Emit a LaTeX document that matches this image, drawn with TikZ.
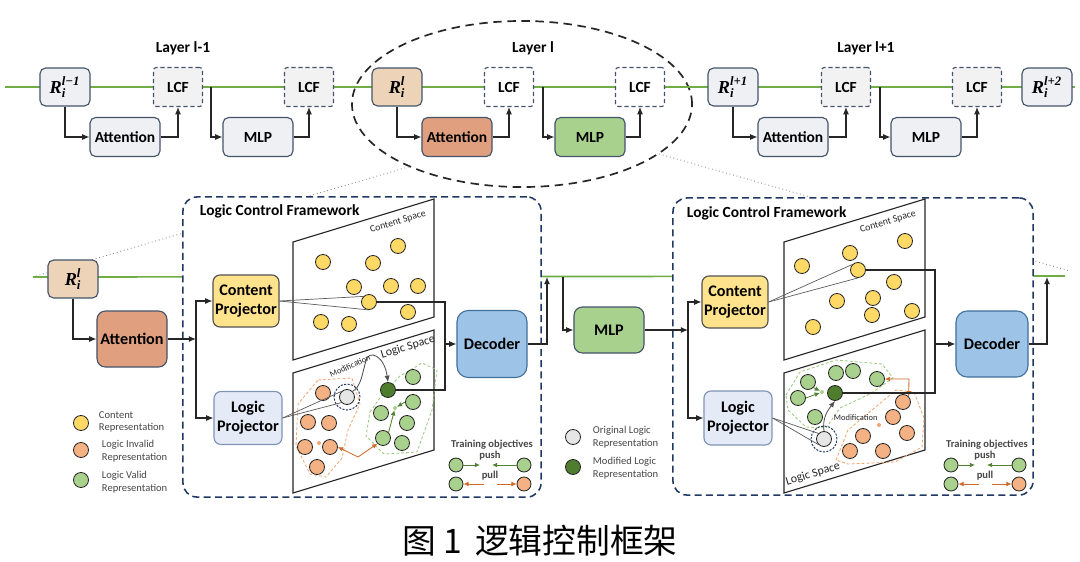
\documentclass[tikz,border=0pt]{standalone}
\usepackage{amsmath}
\usepackage{fontspec}
\setmainfont{Carlito}
\newfontfamily\cjk{Noto Sans CJK SC}
\newfontfamily\rfont{Liberation Serif}
\usepackage{tikz}
\usetikzlibrary{arrows.meta,positioning,shapes.geometric,calc}

\newcommand{\rlab}[1]{$\text{\rfont\bfseries\itshape R}_{\text{\rfont\bfseries\itshape i}}^{\text{\rfont\bfseries\itshape #1}}$}

\definecolor{slate}{HTML}{44546A}
\definecolor{boxgray}{HTML}{EEF0F4}
\definecolor{lcfgray}{HTML}{F2F2F2}
\definecolor{rtan}{HTML}{EDD3B8}
\definecolor{attred}{HTML}{E0A07F}
\definecolor{mlpgreen}{HTML}{A9D18E}
\definecolor{linegreen}{HTML}{70AD47}
\definecolor{projyellow}{HTML}{FFE38C}
\definecolor{projblue}{HTML}{E4EBF7}
\definecolor{projedge}{HTML}{7F93B5}
\definecolor{decblue}{HTML}{9DC3E6}
\definecolor{decedge}{HTML}{41719C}
\definecolor{fwnavy}{HTML}{203864}
\definecolor{dotyellow}{HTML}{FFD966}
\definecolor{dotorange}{HTML}{F4B183}
\definecolor{dotgreen}{HTML}{A9D18E}
\definecolor{dotdark}{HTML}{4E7D2E}
\definecolor{dotgray}{HTML}{E6E6E6}
\definecolor{arrorange}{HTML}{D0692A}
\definecolor{arrgreen}{HTML}{548235}
\definecolor{hullorange}{HTML}{F4A672}
\definecolor{hullgreen}{HTML}{9DCB7E}
\definecolor{ink}{HTML}{262626}

\begin{document}
\begin{tikzpicture}[
  x=0.025cm, y=-0.025cm,
  font=\bfseries\fontsize{11}{13}\selectfont,
  blk/.style={
    rectangle,
    rounded corners=4pt,
    draw=slate,
    line width=0.8pt,
    fill=boxgray,
    inner sep=0pt,
    minimum width=1.75cm,
    minimum height=0.975cm
  },
  rbox/.style={blk, minimum width=1.25cm, minimum height=0.95cm,
    font=\bfseries\fontsize{13}{14}\selectfont},
  lcfbox/.style={blk, fill=lcfgray, dash pattern=on 3pt off 2pt,
    rounded corners=2pt, minimum width=1.225cm},
  proj/.style={
    rectangle,
    rounded corners=5pt,
    line width=0.8pt,
    align=center,
    inner sep=0pt,
    font=\bfseries\fontsize{11.5}{13.5}\selectfont,
    minimum width=1.65cm,
    minimum height=1.3cm
  },
  dec/.style={proj, draw=decedge, fill=decblue, rounded corners=8pt,
    minimum width=1.75cm, minimum height=1.675cm},
  fwbox/.style={rectangle, rounded corners=10pt, draw=fwnavy, fill=white,
    line width=1.1pt, dash pattern=on 5pt off 3pt},
  space/.style={draw=ink, line width=0.8pt, fill=white},
  dot/.style={circle, draw=ink, line width=0.6pt, inner sep=0pt, minimum size=0.375cm},
  cdot/.style={dot, fill=dotyellow},
  odot/.style={dot, fill=dotorange},
  gdot/.style={dot, fill=dotgreen},
  mdot/.style={dot, fill=dotdark},
  xdot/.style={dot, fill=dotgray},
  tdot/.style={dot, minimum size=0.35cm},
  cen/.style={circle, inner sep=0pt, minimum size=0.1cm},
  ringdash/.style={circle, draw=fwnavy, dash pattern=on 1.5pt off 1pt,
    line width=0.7pt, inner sep=0pt, minimum size=0.65cm},
  hull/.style={dash pattern=on 2pt off 1.5pt, line width=0.6pt},
  gline/.style={draw=linegreen, line width=1.2pt},
  dotline/.style={draw=gray, dotted, line width=0.6pt},
  arrow/.style={-{Latex[length=1.8mm,width=1.5mm]}, line width=0.8pt, draw=ink},
  wire/.style={line width=0.8pt, draw=ink},
  cone/.style={line width=0.5pt, draw=ink!75},
  modarr/.style={-{Latex[length=1.6mm,width=1.3mm]}, line width=0.6pt, draw=ink!80},
  garr/.style={-{Latex[length=1.3mm,width=1.2mm]}, line width=0.6pt, draw=arrgreen},
  oarr/.style={-{Latex[length=1.3mm,width=1.2mm]}, line width=0.6pt, draw=arrorange},
  legtext/.style={anchor=west, align=left, text=ink!85,
    font=\normalfont\fontsize{7.5}{9}\selectfont},
  small/.style={font=\normalfont\fontsize{7}{8}\selectfont, text=ink},
  tiny/.style={font=\normalfont\fontsize{6}{7}\selectfont, text=ink},
  objtext/.style={font=\bfseries\fontsize{7.5}{8}\selectfont, text=ink!85}
]
  \fill[white] (0,0) rectangle (1080,561);
  \useasboundingbox (0,0) rectangle (1080,561);

  % zoom ring and guide lines
  \node[ellipse, draw=ink, line width=1.2pt, dash pattern=on 6pt off 4pt,
    minimum width=8.5cm, minimum height=4.15cm] (ring) at (522,104) {};
  \coordinate (gin)  at (5,87);
  \coordinate (gout) at (1075,87);
  \coordinate (lin)  at (33,277);
  \coordinate (lout) at (1065,276);
  \coordinate (rdot) at (1070,271);
  \draw[dotline] (ring.209) -- (lin);
  \draw[dotline] (ring.340) -- (rdot);
  \draw[gline] (gin) -- (gout);
  \draw[gline] (lin) -- (lout);

  \node (lay1) at (183,48) {Layer l-1};
  \node (lay2) at (533,48) {Layer l};
  \node (lay3) at (866,48) {Layer l+1};

  \node[rbox]                (r1)   at (65,87)    {\rlab{l−1}};
  \node[lcfbox]              (lcf1) at (178,87)   {LCF};
  \node[blk]                 (att1) at (125,137)  {Attention};
  \node[lcfbox]              (lcf2) at (309,87)   {LCF};
  \node[blk]                 (mlp1) at (258,137)  {MLP};
  \node[rbox, fill=rtan]     (r2)   at (397,87)   {\rlab{l}};
  \node[lcfbox, fill=white]  (lcf3) at (509,87)   {LCF};
  \node[blk, fill=attred]    (att2) at (457,137)  {Attention};
  \node[lcfbox, fill=white]  (lcf4) at (640,87)   {LCF};
  \node[blk, fill=mlpgreen]  (mlp2) at (590,137)  {MLP};
  \node[rbox]                (r3)   at (733,87)   {\rlab{l+1}};
  \node[lcfbox]              (lcf5) at (846,87)   {LCF};
  \node[blk]                 (att3) at (793,137)  {Attention};
  \node[lcfbox]              (lcf6) at (977,87)   {LCF};
  \node[blk]                 (mlp3) at (926,137)  {MLP};
  \node[rbox]                (r4)   at (1047,87)  {\rlab{l+2}};

  \coordinate (t1) at (211,87);
  \coordinate (t2) at (543,87);
  \coordinate (t3) at (880,87);

  \draw[arrow] (r1.south) |- (att1.west);
  \draw[arrow] (att1.east) -| (lcf1.south);
  \draw[arrow] (t1) |- (mlp1.west);
  \draw[arrow] (mlp1.east) -| (lcf2.south);
  \draw[arrow] (r2.south) |- (att2.west);
  \draw[arrow] (att2.east) -| (lcf3.south);
  \draw[arrow] (t2) |- (mlp2.west);
  \draw[arrow] (mlp2.east) -| (lcf4.south);
  \draw[arrow] (r3.south) |- (att3.west);
  \draw[arrow] (att3.east) -| (lcf5.south);
  \draw[arrow] (t3) |- (mlp3.west);
  \draw[arrow] (mlp3.east) -| (lcf6.south);

  % frameworks
  \node[fwbox, minimum width=8.95cm, minimum height=7.5cm] (fw1) at (362,347) {};
  \node[fwbox, minimum width=9cm, minimum height=7.425cm] (fw2) at (853,346.5) {};
  \node[anchor=west] (fwt1) at (195,211) {Logic Control Framework};
  \node[anchor=west] (fwt2) at (682,213) {Logic Control Framework};

  \node[rbox, fill=rtan] (rl) at (73,279) {\rlab{l}};
  \node[blk, fill=attred, minimum height=1.4cm, rounded corners=6pt,
    font=\bfseries\fontsize{11.5}{13}\selectfont] (attl) at (132,339) {Attention};
  \draw[arrow] (rl.south) |- (attl.west);

  \node[proj, draw=ink!80, fill=projyellow] (cp1) at (246,301) {Content\\Projector};
  \node[proj, draw=projedge, fill=projblue, minimum width=1.7cm,
    minimum height=1.325cm] (lp1) at (248,418) {Logic\\Projector};
  \coordinate (s1) at (196,339);
  \draw[arrow] (attl.east) -- (s1);
  \draw[arrow] (s1) |- (cp1.west);
  \draw[arrow] (s1) |- (lp1.west);

  \draw[space] (293,242) -- (434,199) -- (434,317) -- (293,360) -- cycle;
  \draw[space] (293,373) -- (434,330) -- (434,450) -- (293,493) -- cycle;
  \node[small, rotate=17] (csl1) at (398,222) {Content Space};
  \node[small, font=\normalfont\fontsize{8.5}{9}\selectfont, rotate=17] (lsl1) at (408,347) {Logic Space};

  \foreach \x/\y in {323/262,373/263,398/246,354/287,391/286,418/286,408/312,321/322,349/324}
    \node[cdot] at (\x,\y) {};
  \node[cdot] (sel1) at (369,302) {};

  \draw[hull, draw=hullorange] (318,380) -- (352,378) -- (360,404) -- (348,430) -- (342,458)
    -- (326,477) -- (310,474) -- (296,446) -- (298,404) -- cycle;
  \draw[hull, draw=hullgreen] (370,412) -- (382,395) -- (400,376) -- (422,363) -- (437,370)
    -- (432,410) -- (417,452) -- (384,454) -- (366,436) -- cycle;
  \foreach \x/\y [count=\i] in {323/393,308/422,329/423,305/447,330/447,317/467}
    \node[odot] (oa\i) at (\x,\y) {};
  \foreach \x/\y [count=\i] in {413/377,413/402,381/413,407/423,383/438,402/443}
    \node[gdot] (ga\i) at (\x,\y) {};
  \node[cen, fill=hullorange] (ocen1) at (319,443) {};
  \node[cen, fill=dotgreen] (gcen1) at (395,408) {};
  \node[ringdash] (ring1) at (347,397) {};
  \node[xdot] (orig1) at (347,397) {};
  \node[mdot] (mod1) at (388,390) {};

  \draw[garr] (ga2.west) -- (gcen1);
  \draw[garr] (ga5.north east) -- (gcen1);
  \coordinate (ov1) at (358,457);
  \draw[oarr, {Latex[length=1.3mm,width=1.2mm]}-{Latex[length=1.3mm,width=1.2mm]}]
    (oa5.east) -- (ov1) -- (ga5.south west);

  \draw[cone] (cp1.east) -- (sel1.north west);
  \draw[cone] (cp1.east) -- (sel1.south);
  \draw[cone] (lp1.east) -- (orig1.north west);
  \draw[cone] (lp1.east) -- (orig1.south west);
  \draw[modarr] (orig1.north east) .. controls (366,384) and (362,352) .. (373,355)
    .. controls (382,357) and (386,368) .. (mod1.north);
  \node[tiny, rotate=25] (modl1) at (350,366) {Modification};

  \node[dec] (dec1) at (492,344) {Decoder};
  \coordinate (k1) at (445,344);
  \draw[wire] (sel1.east) -| (k1);
  \draw[wire] (mod1.east) -| (k1);
  \draw[arrow] (k1) -- (dec1.west);
  \coordinate (u1) at (547,277);
  \draw[arrow] (dec1.east) -| (u1);

  % left legend
  \node[cdot] (lg1) at (81,423) {};
  \node[odot] (lg2) at (81,450) {};
  \node[gdot] (lg3) at (81,480) {};
  \node[legtext] (lt1) at (94,422) {Content\\Representation};
  \node[legtext] (lt2) at (97,451) {Logic Invalid\\Representation};
  \node[legtext] (lt3) at (97,482) {Logic Valid\\Representation};

  % training objectives 1
  \node[objtext] (to1) at (492,445) {Training objectives};
  \node[objtext] (pu1) at (490,456) {push};
  \node[objtext] (pl1) at (490,476) {pull};
  \node[tdot, fill=dotgreen]  (tg1) at (456,465) {};
  \node[tdot, fill=dotgreen]  (tg2) at (524,465) {};
  \node[tdot, fill=dotgreen]  (tg3) at (456,484) {};
  \node[tdot, fill=dotorange] (tr1) at (524,484) {};
  \coordinate (pa1) at (480,465);
  \coordinate (pb1) at (492,465);
  \coordinate (pc1) at (484,484);
  \coordinate (pd1) at (497,484);
  \draw[garr] (tg1) -- (pa1);
  \draw[garr] (tg2) -- (pb1);
  \draw[oarr] (pc1) -- (tg3);
  \draw[oarr] (pd1) -- (tr1);

  % between frameworks
  \coordinate (v1) at (563,277);
  \node[blk, fill=mlpgreen, minimum height=1.15cm, rounded corners=6pt,
    font=\bfseries\fontsize{11.5}{13}\selectfont] (mlpl) at (609,330) {MLP};
  \draw[arrow] (v1) |- (mlpl.west);
  \node[xdot] (lg4) at (573,437) {};
  \node[mdot] (lg5) at (573,467) {};
  \node[legtext] (lt4) at (588,437) {Original Logic\\Representation};
  \node[legtext] (lt5) at (588,468) {Modified Logic\\Representation};

  % second framework
  \node[proj, draw=ink!80, fill=projyellow] (cp2) at (735,302) {Content\\Projector};
  \node[proj, draw=projedge, fill=projblue, minimum width=1.7cm,
    minimum height=1.35cm] (lp2) at (738,418) {Logic\\Projector};
  \coordinate (s2) at (688,330);
  \draw[arrow] (mlpl.east) -- (s2);
  \draw[arrow] (s2) |- (cp2.west);
  \draw[arrow] (s2) |- (lp2.west);

  \draw[space] (784,242) -- (925,199) -- (925,317) -- (784,360) -- cycle;
  \draw[space] (784,373) -- (925,330) -- (925,450) -- (784,493) -- cycle;
  \node[small, rotate=17] (csl2) at (888,222) {Content Space};
  \node[small, font=\normalfont\fontsize{8.5}{9}\selectfont, rotate=17] (lsl2) at (813,474) {Logic Space};

  \foreach \x/\y in {802/266,850/253,905/241,894/282,837/301,873/298,872/315,912/311,813/327}
    \node[cdot] at (\x,\y) {};
  \node[cdot] (sel2) at (858,270) {};

  \draw[hull, draw=hullgreen] (786,395) -- (800,372) -- (836,360) -- (882,364) -- (893,378)
    -- (870,394) -- (840,408) -- (826,428) -- (806,427) -- (788,410) -- cycle;
  \draw[hull, draw=hullorange] (836,460) -- (848,430) -- (872,410) -- (896,390) -- (914,392)
    -- (924,418) -- (922,447) -- (895,462) -- (848,464) -- cycle;
  \foreach \x/\y [count=\i] in {903/402,893/417,907/433,863/436,850/451,883/451}
    \node[odot] (ob\i) at (\x,\y) {};
  \foreach \x/\y [count=\i] in {808/382,836/373,853/371,877/379,798/398,815/417}
    \node[gdot] (gb\i) at (\x,\y) {};
  \node[cen, fill=hullorange] (ocen2) at (879,425) {};
  \node[cen, fill=dotgreen] (gcen2) at (822,392) {};
  \node[ringdash] (ring2) at (824,439) {};
  \node[xdot] (orig2) at (824,439) {};
  \node[mdot] (mod2) at (835,393) {};

  \draw[garr] (gb5.east) -- (gcen2);
  \draw[garr] (gb1.south east) -- (gcen2);
  \coordinate (ow2) at (909,379);
  \draw[oarr, {Latex[length=1.3mm,width=1.2mm]}-{Latex[length=1.3mm,width=1.2mm]}]
    (gb4.east) -- (ow2) -- (ob1.north east);

  \draw[cone] (cp2.east) -- (sel2.north west);
  \draw[cone] (cp2.east) -- (sel2.south);
  \draw[cone] (lp2.east) -- (orig2.north west);
  \draw[cone] (lp2.east) -- (orig2.south west);
  \draw[modarr] (orig2.north) .. controls (822,418) and (828,410) .. (mod2.south);
  \node[tiny, anchor=west] (modl2) at (829,418) {Modification};

  \node[dec, minimum width=1.8cm, minimum height=1.65cm] (dec2) at (992,344) {Decoder};
  \coordinate (k2) at (935,344);
  \draw[wire] (sel2.east) -| (k2);
  \draw[wire] (mod2.east) -| (k2);
  \draw[arrow] (k2) -- (dec2.west);
  \coordinate (u2) at (1047,277);
  \draw[arrow] (dec2.east) -| (u2);

  % training objectives 2
  \node[objtext] (to2) at (987,445) {Training objectives};
  \node[objtext] (pu2) at (985,456) {push};
  \node[objtext] (pl2) at (985,476) {pull};
  \node[tdot, fill=dotgreen]  (tg4) at (951,465) {};
  \node[tdot, fill=dotgreen]  (tg5) at (1019,465) {};
  \node[tdot, fill=dotgreen]  (tg6) at (951,484) {};
  \node[tdot, fill=dotorange] (tr2) at (1019,484) {};
  \coordinate (pa2) at (975,465);
  \coordinate (pb2) at (987,465);
  \coordinate (pc2) at (979,484);
  \coordinate (pd2) at (992,484);
  \draw[garr] (tg4) -- (pa2);
  \draw[garr] (tg5) -- (pb2);
  \draw[oarr] (pc2) -- (tg6);
  \draw[oarr] (pd2) -- (tr2);

  \node[anchor=west, font=\normalfont\cjk\fontsize{24}{26}\selectfont] (cap) at (398,541)
    {图\hspace{5pt}1\hspace{9pt}逻辑控制框架};
\end{tikzpicture}
\end{document}
